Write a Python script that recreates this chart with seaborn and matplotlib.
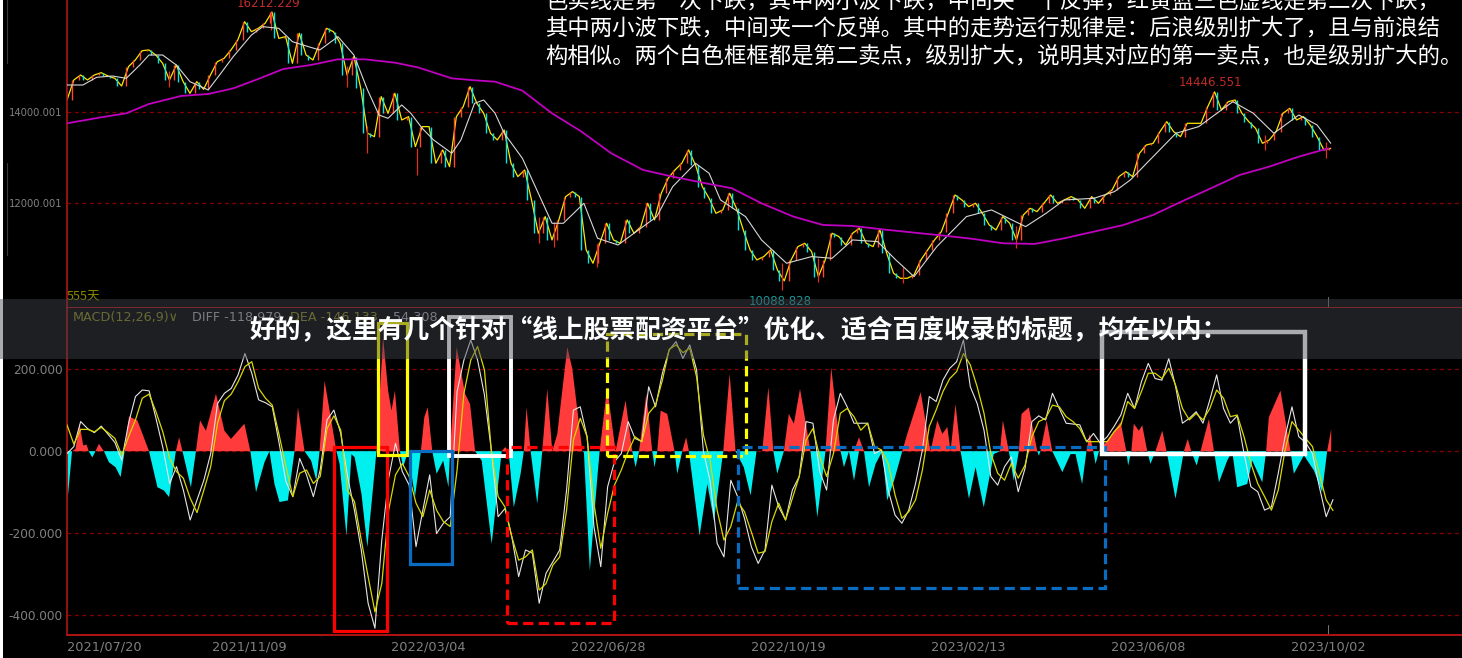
import numpy as np
import matplotlib
matplotlib.use("Agg")
import matplotlib.pyplot as plt
from matplotlib.lines import Line2D
from matplotlib.patches import Rectangle
import seaborn as sns

# ---------- data ----------
close_values = [
14263,14701,14810,14701,14810,14861,14788,14737,14569,14993,15139,15343,15358,15248,15066,14701,15029,14664,14409,14664,
14496,14810,15102,15175,15358,15577,15978,15759,15832,15942,16190,15613,15650,15066,15723,15248,15139,15504,15832,15759,
15504,14810,15212,14518,13533,13460,14336,13971,14409,13825,13898,13241,13679,13679,12876,13168,12803,13898,14117,14555,
14190,13971,13533,13387,13606,12876,12584,12730,12073,11343,11708,11197,11635,12146,12255,12146,10978,10686,11124,11562,
11197,11124,11635,11343,11489,12000,11635,12219,12547,12730,12876,13168,12839,12365,12109,11781,11854,12219,11890,11416,
10978,10759,10832,10978,10540,10300,10759,11051,11124,10941,10394,10759,11343,11270,11087,11343,11452,11124,11051,11416,
10905,10467,10357,10357,10430,10759,10978,11197,11379,11781,12182,12073,11927,12000,11781,11525,11416,11708,11562,11197,
11744,11890,11817,12000,12182,12000,12073,12146,12073,11890,12146,12000,12182,12292,12584,12693,12584,13095,13277,13314,
13569,13788,13569,13460,13752,13752,13752,14117,14440,14044,14226,14263,13971,13788,13642,13314,13387,13569,13971,14080,
13825,13898,13715,13460,13168,13204]
wick_bars = [44.6,89.4,122.8,131.7,153.7,207.5,214,232.7,314,330,367,416.6,526,553]
wick_tops = [14900,16190,15000,13700,13200,11700,11600,11100,10700,10800,10600,11500,13500,13350]
wick_ends = [14540,15800,14540,13109,12620,11124,11051,10613,10102,10284,10248,11015,13168,12985]
ma_short_bars = [0,7,13,20,26,32,36,42,48,54,62,67,73,81,86,93,99,106,111,119,126,132,137,141,147,151,156,161,169,173,179,183,188,192,200,
205,213,218,227,233,242,251,259,266,276,282,287,298,305,316,327,336,345,356,364,372,382,395,406,421,430,438,451,460,467,477,487,497,512,521,530,541,549,555]
ma_short_values = [14591,14591,14759,14788,14737,15029,15248,15248,15029,14664,14482,14810,15212,15686,15869,15832,15540,15431,15358,15650,15248,14482,13934,13861,14153,13971,13642,13387,13095,13387,14190,14263,13971,13533,12985,
12438,11562,11562,12000,11233,11087,11416,11708,12365,12876,12657,12073,11708,11197,10686,10832,10795,11197,11160,10759,10394,11051,11708,11854,11489,11781,12073,12109,12255,12511,13022,13533,13679,14226,13971,13533,13934,13715,13314]
ma_long_bars = [0,15,26,36,50,62,73,84,95,107,119,131,144,154,169,179,188,200,213,226,239,253,266,279,292,305,319,332,345,358,372,385,398,411,425,438,451,464,477,491,504,515,528,541,554]
ma_long_values = [13752,13883,13971,14175,14350,14394,14518,14723,14942,15029,15153,15153,15080,14978,14737,14694,14664,14467,13971,13569,13095,12730,12584,12452,12328,12000,11708,11525,11503,11430,11357,11292,11219,11124,11109,11233,11379,11525,11744,12073,12365,12620,12803,13022,13204]

hist_bars = [
0,2,3.5,5.3,6.9,8.4,9.3,10.9,12.3,13.8,16,18.2,21.1,23.3,25.1,27,30.7,35.8,39.5,42.4,44.6,47.6,49,50.5,54.2,56.4,58.2,60.8,65.2,68.9,71.8,77.7,80.3,82.8,86.5,88.7,90.9,93.1,96.8,99.7,
101.2,104.1,107,109.3,110.7,112.9,115.1,118.1,119.5,122.5,124.7,126.1,129.1,131.7,135.7,138.6,140.8,142.3,143.8,146,147.4,149.6,152.6,155.2,156.7,158.2,160.2,162.1,165,167.3,168,170.9,174.6,176.8,179,181.9,186.3,190.7,192.2,193.7,
196,199,200.4,201.6,203.4,206.3,208.5,210.7,212.9,215.1,219.5,221.7,226.1,226.8,229.4,232.7,233.7,237,240.7,245.1,248,249.5,251,254.2,256.8,257.8,259,260.5,263.4,266.6,267.8,270,271.7,272.9,277.6,281,283.9,288,290.8,293.4,297,300,302.6,305.1,307.8,310,311.7,314.6,316.8,319,321.7,326.3,329.3,332.9,335.4,339.5,341,343.2,345.4,347.6,349.8,352,354.9,357.8,360,363,366.6,368.8,374.7,379,382,384.2,386.4,387.8,390,392.2,
395.9,398.8,402.4,406.8,409.5,410.8,413.4,415.6,417.8,419,422.2,425.9,426.6,427.3,430,432.5,436.9,440.5,442.7,445.6,447.5,448.9,450.5,451.5,453,456.6,462.5,465,465.8,467.2,468.3,470.5,472,474.2,475.6,477.8,480.8,482.7,486.6,490.3,492,493.5,495.9,497.6,501.3,503.5,505.7,509.3,511.5,513.7,518.1,520.3,524.7,526.4,527.6,532.7,537.1,538.6,543,547.4,551,553.2,555]
hist_values = [
-120,0,5,67,14,16,0,-15,0,18,0,-27,-39,-63,0,85,75,0,-88,-96,-112,0,34,0,-88,0,75,50,140,50,30,67,0,-100,-27,0,-80,-124,-120,0,
107,0,-23,-72,0,172,99,0,-31,-206,-7,-15,-104,-234,0,278,148,99,148,0,-39,0,-112,0,83,107,0,-55,-23,-88,0,254,140,115,0,-23,-226,0,10,0,
-137,-55,0,107,0,-128,0,152,0,42,254,201,0,-3,-291,-63,0,156,0,124,0,-39,0,140,0,-39,0,99,91,0,-55,0,34,0,-206,-80,-169,0,189,0,-39,-108,0,0,156,0,-55,0,91,67,152,0,-161,0,205,0,-39,0,-72,34,0,-88,-31,0,-120,-72,0,42,144,0,75,42,59,0,115,0,
-116,-39,-137,-7,0,75,0,-72,0,91,107,0,-11,0,75,0,-51,-7,-7,-80,0,42,0,-31,0,26,71,0,-35,0,67,50,63,0,-31,0,50,0,-116,0,30,0,-35,0,79,0,-76,-23,0,-88,-80,-23,-76,0,83,148,0,-55,-10,-47,-100,0,54]
diff_values = [
-7,10,71,54,44,60,40,20,-23,67,132,148,146,79,8,-80,-39,-96,-169,-120,-72,-7,115,140,152,185,237,189,124,117,107,18,-76,-112,-19,-59,-112,-47,75,99,
42,-63,-145,-242,-372,-433,-218,-67,18,-51,-84,-234,-145,-59,-202,-177,-161,144,221,270,221,136,2,-161,-141,-210,-307,-242,-250,-372,-299,-271,-242,-96,99,107,34,-185,-283,-88,
-27,-7,71,30,22,156,107,189,246,266,225,258,197,-2,-76,-226,-259,-72,-112,-165,-234,-275,-242,-84,-137,-169,-96,-63,71,67,-51,-96,75,140,107,67,67,67,-7,2,
-96,-157,-177,-145,-80,2,132,120,172,201,217,270,156,115,50,-63,-84,-39,-15,-100,-43,71,85,75,140,103,67,65,63,22,42,18,34,59,87,140,103,168,213,176,
172,225,156,67,79,95,67,124,185,103,67,85,-7,-88,-100,-145,-137,-55,34,107,34,20,-7,-88,-161,-119]
dea_values = [
63,16,52,52,46,57,44,30,-11,34,75,128,138,95,46,-19,-51,-67,-116,-151,-96,-39,67,122,138,168,205,217,152,128,111,38,-39,-112,-55,-47,-80,-63,54,85,
50,-96,-124,-218,-307,-393,-324,-145,-59,-31,-63,-128,-161,-96,-145,-173,-185,-47,140,221,254,197,2,-112,-137,-210,-267,-259,-242,-340,-324,-279,-259,-145,26,79,34,-128,-238,-153,
-84,-47,-2,34,22,91,111,172,247,258,239,250,180,38,-27,-145,-218,-185,-124,-149,-198,-250,-246,-173,-128,-169,-116,-63,26,54,-15,-63,-7,91,103,83,50,67,10,2,
-31,-108,-165,-149,-120,-47,59,99,144,176,193,237,209,156,91,-7,-55,-72,-31,-67,-35,34,71,79,111,107,83,71,54,22,22,22,22,46,63,120,103,144,189,189,
176,201,160,103,75,91,75,103,148,128,83,87,34,-31,-80,-112,-145,-96,2,71,50,30,10,-55,-120,-146]

price_ticks = [14000, 12000]
price_tick_labels = ["14000.001", "12000.001"]
macd_ticks = [200, 0, -200, -400]
macd_tick_labels = ["200.000", "0.000", "-200.000", "-400.000"]
date_ticks = [0, 80, 158.5, 237.6, 316.6, 395.7, 474.7, 553.8]
date_labels = ["2021/07/20", "2021/11/09", "2022/03/04", "2022/06/28", "2022/10/19", "2023/02/13", "2023/06/08", "2023/10/02"]
LAST_BAR = 555

note_lines = [
    "色实线是第一次下跌，其中两小波下跌，中间夹一个反弹，红黄蓝三色虚线是第二次下跌，",
    "其中两小波下跌，中间夹一个反弹。其中的走势运行规律是：后浪级别扩大了，且与前浪结",
    "构相似。两个白色框框都是第二卖点，级别扩大，说明其对应的第一卖点，也是级别扩大的。",
]
banner_title = "好的，这里有几个针对“线上股票配资平台”优化、适合百度收录的标题，均在以内："

# wave boxes: bar start, bar end, MACD top, MACD bottom, colour, dashed, width
boxes = [
    (117.3, 140.5, 9, -440, "#ff0000", False, 2.3),
    (136.6, 149.3, 312, -10, "#ffff00", False, 2.3),
    (167.8, 194.9, 325, -13, "#ffffff", False, 2.8),
    (150.6, 169.1, -1, -277, "#0a6cc0", False, 2.3),
    (193.3, 240.2, 9, -420, "#ff0000", True, 2.3),
    (237.2, 298.2, 284, -13, "#ffff00", True, 2.3),
    (294.7, 455.9, 9, -335, "#0a6cc0", True, 2.3),
    (454.6, 543.7, 289, -8, "#ffffff", False, 3.2),
]

# ---------- layout ----------
W, H = 1462, 658
sns.set_theme(style="dark", rc={"axes.facecolor": "black", "figure.facecolor": "black"})
plt.rcParams["font.family"] = ["DejaVu Sans", "Noto Sans CJK SC"]
CJK = ["Noto Sans CJK SC", "DejaVu Sans"]

fig = plt.figure(figsize=(W / 100, H / 100), dpi=100, facecolor="black")
ax1 = fig.add_axes([67 / W, 1 - 308 / H, 1 - 67 / W, 308 / H])
ax2 = fig.add_axes([67 / W, 1 - 635 / H, 1 - 67 / W, 327 / H])
x_max = (W - 67) / 2.277

for ax in (ax1, ax2):
    ax.set_facecolor("black")
    ax.set_xlim(0, x_max)
    ax.grid(False)
    ax.grid(axis="y", color="#8a0000", linestyle=(0, (3, 3)), linewidth=0.9)
    ax.set_axisbelow(True)
    ax.tick_params(axis="both", length=0)
    for s in ("top", "right"):
        ax.spines[s].set_visible(False)
    ax.spines["left"].set_color("#b01414")
    ax.spines["left"].set_linewidth(1.2)
    ax.spines["bottom"].set_color("#b01414")
    ax.spines["bottom"].set_linewidth(1.4)

ax1.set_ylim(9706, 16453)
ax2.set_ylim(-449.5, 348)

# ---------- price panel ----------
bars = np.linspace(0, LAST_BAR, len(close_values))
close = np.array(close_values, float)
mid = (bars[:-1] + bars[1:]) / 2
lo, hi = np.minimum(close[:-1], close[1:]), np.maximum(close[:-1], close[1:])
up = close[1:] >= close[:-1]
sns.lineplot(x=bars, y=close, ax=ax1, color="#ffe600", lw=0.9, estimator=None, sort=False, zorder=2)
ax1.vlines(mid[up] + 0.6, lo[up], hi[up], color="#ff4a30", lw=1.0, zorder=3)
ax1.vlines(mid[~up] - 0.6, lo[~up], hi[~up], color="#00e8e8", lw=1.0, zorder=3)
ax1.vlines(wick_bars, wick_ends, wick_tops, color="#e03020", lw=0.9, zorder=2)
sns.lineplot(x=ma_short_bars, y=ma_short_values, ax=ax1, color="#d8d8d8", lw=0.8, estimator=None, sort=False, zorder=4)
sns.lineplot(x=ma_long_bars, y=ma_long_values, ax=ax1, color="#c000c0", lw=1.3, estimator=None, sort=False, zorder=4)
ax1.set_xlabel("")
ax1.set_ylabel("")
ax1.set_xticks([])
ax1.set_yticks(price_ticks)
ax1.set_yticklabels(price_tick_labels, color="#808080", fontsize=7.2)
ax1.tick_params(axis="y", pad=3)

ax1.text(88.7, 16387, "16212.229", color="#c02a2a", fontsize=8.5, ha="center", va="center")
ax1.text(502, 14635, "14446.551", color="#c02a2a", fontsize=8.5, ha="center", va="center")
ax1.text(313, 9850, "10088.828", color="#1a9a9a", fontsize=8.5, ha="center", va="center")
ax1.text(0, 9948, "555天", color="#8a8a00", fontsize=9, ha="left", va="center", family=CJK)
ax1.plot([553.8, 553.8], [0, 0.035], transform=ax1.get_xaxis_transform(), color="#777777", lw=0.7)

# ---------- MACD panel ----------
hist = np.array(hist_values, float)
ax2.fill_between(hist_bars, 0, np.clip(hist, 0, None), color="#ff3b3b", lw=0, zorder=2)
ax2.fill_between(hist_bars, 0, np.clip(hist, None, 0), color="#00f0f0", lw=0, zorder=2)
sns.lineplot(x=np.linspace(0, LAST_BAR + 1, len(diff_values)), y=diff_values, ax=ax2, color="#e6e6e6", lw=0.8,
             estimator=None, sort=False, zorder=3)
sns.lineplot(x=np.linspace(0, LAST_BAR + 1, len(dea_values)), y=dea_values, ax=ax2, color="#d8d800", lw=0.9,
             estimator=None, sort=False, zorder=4)
ax2.set_xlabel("")
ax2.set_ylabel("")
ax2.set_yticks(macd_ticks)
ax2.set_yticklabels(macd_tick_labels, color="#808080", fontsize=8.7)
ax2.set_xticks(date_ticks)
ax2.set_xticklabels(date_labels, color="#808080", fontsize=9.3)
ax2.get_xticklabels()[0].set_ha("left")
ax2.tick_params(axis="x", pad=4)
ax2.tick_params(axis="y", pad=3)
ax2.plot([553.8, 553.8], [0, 0.03], transform=ax2.get_xaxis_transform(), color="#777777", lw=0.7)

for bar0, bar1, top, bottom, colour, dashed, width in boxes:
    ax2.add_patch(Rectangle((bar0, bottom), bar1 - bar0, top - bottom, fill=False, edgecolor=colour,
                            linewidth=width, linestyle=(0, (3.2, 1.7)) if dashed else "-",
                            zorder=6, clip_on=False, joinstyle="miter"))

ax2.text(2.6, 326, "MACD(12,26,9)∨", color="#8a8a20", fontsize=9.2, va="center", ha="left")
ax2.text(55, 326, "DIFF -118.979", color="#a8a8b0", fontsize=9.2, va="center", ha="left")
ax2.text(98, 326, "DEA -146.133", color="#8a8a20", fontsize=9.2, va="center", ha="left")
ax2.text(143, 326, "54.308", color="#a8a8b0", fontsize=9.2, va="center", ha="left")

# ---------- overlays ----------
fig.add_artist(Rectangle((0, 0), 3 / W, 1, transform=fig.transFigure, facecolor="white", edgecolor="none", zorder=4))
for y0, y1 in ((0, 63), (163, 255)):
    fig.add_artist(Line2D([7 / W, 7 / W], [1 - y0 / H, 1 - y1 / H], transform=fig.transFigure, color="#3a3a3a", lw=0.8, zorder=4))
for i, line in enumerate(note_lines):
    fig.text(545 / W, 1 - (1 + 27.3 * i) / H, line, color="white", fontsize=16.1, family=CJK, ha="left", va="center", zorder=4)
fig.add_artist(Rectangle((0, 1 - 359 / H), 1, 60 / H, transform=fig.transFigure, facecolor=(0.26, 0.27, 0.31),
                         alpha=0.45, edgecolor="none", zorder=5))
fig.text(739 / W, 1 - 331 / H, banner_title, color="white", fontsize=18.5, fontweight="bold", family=CJK,
         ha="center", va="center", zorder=6)

fig.savefig("out.png", dpi=100, facecolor="black")
